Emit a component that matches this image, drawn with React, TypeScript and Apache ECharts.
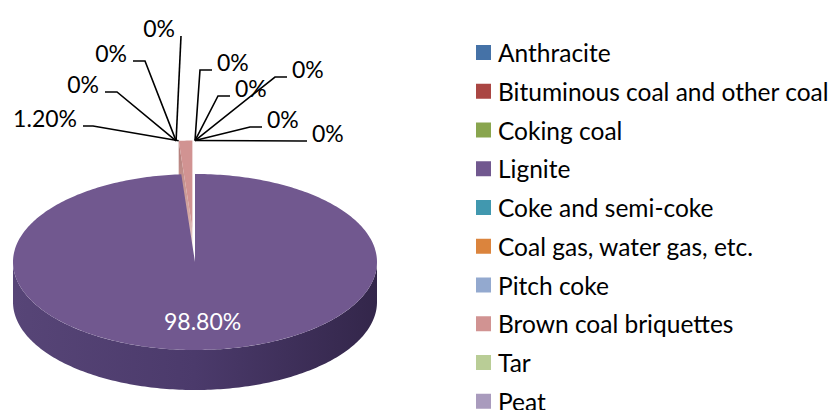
import React, { useEffect, useRef } from "react";
import * as echarts from "echarts";

// ---- data ----
const categories: string[] = [
  "Anthracite",
  "Bituminous coal and other coal",
  "Coking coal",
  "Lignite",
  "Coke and semi-coke",
  "Coal gas, water gas, etc.",
  "Pitch coke",
  "Brown coal briquettes",
  "Tar",
  "Peat",
];
const shares: number[] = [0, 0, 0, 98.8, 0, 0, 0, 1.2, 0, 0];

// ---- styles ----
const colors: string[] = [
  "#4572A7", "#AA4643", "#89A54E", "#71588F", "#4198AF",
  "#DB843D", "#93A9CF", "#D19392", "#B9CD96", "#A99BBD",
];
const explodeBy: number[] = [0.38, 0.38, 0.38, 0, 0.38, 0.38, 0.38, 0.38, 0.38, 0.38];

// ---- layout ----
const PIE = { cx: 195, cy: 262, rx: 182, ry: 88, depth: 40 };
const FONT = "Lato";
const FS = 23;
type LabelLayout =
  | { inside: true; frac: number }
  | { inside?: false; side: "L" | "R"; ex: number; ey: number; hx: number };
const labelLayout: LabelLayout[] = [
  { side: "R", ex: 275, ey: 77, hx: 287 },
  { side: "R", ex: 250, ey: 127, hx: 262 },
  { side: "R", ex: 300, ey: 141, hx: 307 },
  { inside: true, frac: 0.67 },
  { side: "L", ex: 117, ey: 92, hx: 105 },
  { side: "L", ex: 145, ey: 61, hx: 133 },
  { side: "L", ex: 181, ey: 36, hx: 181 },
  { side: "L", ex: 93, ey: 126, hx: 83 },
  { side: "R", ex: 200, ey: 70, hx: 212 },
  { side: "R", ex: 218, ey: 96, hx: 230 },
];

const fmtPct = (v: number) => (v === 0 ? "0%" : v.toFixed(2) + "%");

const total = shares.reduce((a, b) => a + b, 0);
const cumStart: number[] = [];
{
  let acc = 0;
  for (const v of shares) {
    cumStart.push((acc / total) * 360);
    acc += v;
  }
}

const rad = (d: number) => (d * Math.PI) / 180;
const pt = (ox: number, oy: number, ang: number, f = 1): number[] => [
  ox + f * PIE.rx * Math.sin(rad(ang)),
  oy - f * PIE.ry * Math.cos(rad(ang)),
];
const arcPts = (ox: number, oy: number, a0: number, a1: number, dy = 0) => {
  const pts: number[][] = [];
  const n = Math.max(2, Math.ceil(Math.abs(a1 - a0) / 1));
  for (let k = 0; k <= n; k++) {
    const a = a0 + ((a1 - a0) * k) / n;
    const p = pt(ox, oy, a);
    pts.push([p[0], p[1] + dy]);
  }
  return pts;
};

function renderItem(params: any) {
  const i = params.dataIndex;
  const v = shares[i];
  const a0 = cumStart[i];
  const a1 = a0 + (v / total) * 360;
  const mid = (a0 + a1) / 2;
  const e = explodeBy[i];
  const ox = PIE.cx + e * PIE.rx * Math.sin(rad(mid));
  const oy = PIE.cy - e * PIE.ry * Math.cos(rad(mid));
  const zBase = Math.round((1 - Math.cos(rad(mid))) * 10) * 4;
  const children: any[] = [];
  const color = colors[i];

  if (v > 0) {
    const s0 = Math.max(a0, 90);
    const s1 = Math.min(a1, 270);
    if (s1 > s0) {
      const top = arcPts(ox, oy, s0, s1);
      const bot = arcPts(ox, oy, s0, s1, PIE.depth).reverse();
      children.push({
        type: "polygon",
        z2: zBase + 1,
        shape: { points: top.concat(bot) },
        style: {
          fill: new echarts.graphic.LinearGradient(0, 0, 1, 0, [
            { offset: 0, color: "#574577" },
            { offset: 0.5, color: "#4B3A6B" },
            { offset: 1, color: "#33264A" },
          ]),
        },
      });
    }
    const faces = [
      { ang: a0, normal: a0 - 90 },
      { ang: a1, normal: a1 + 90 },
    ];
    for (const f of faces) {
      if (Math.cos(rad(f.normal - 180)) > 0.01) {
        const o = [ox, oy];
        const p = pt(ox, oy, f.ang);
        children.push({
          type: "polygon",
          z2: zBase + 2,
          shape: {
            points: [o, p, [p[0], p[1] + PIE.depth], [o[0], o[1] + PIE.depth]],
          },
          style: {
            fill: new echarts.graphic.LinearGradient(0, 0, 0, 1, [
              { offset: 0, color: "#B07A76" },
              { offset: 0.6, color: "#D6AAA6" },
              { offset: 1, color: "#F6ECEB" },
            ]),
          },
        });
      }
    }
    children.push({
      type: "polygon",
      z2: zBase + 3,
      shape: { points: [[ox, oy]].concat(arcPts(ox, oy, a0, a1)) },
      style: { fill: color },
    });
  }

  const lay = labelLayout[i];
  const text = fmtPct(v);
  if ((lay as any).inside) {
    const p = pt(ox, oy, mid, (lay as any).frac);
    children.push({
      type: "text",
      x: p[0] + 3,
      y: p[1],
      z2: 200,
      style: {
        text,
        fill: "#FFFFFF",
        fontFamily: FONT,
        fontSize: FS,
        align: "center",
        verticalAlign: "middle",
      },
    });
  } else {
    const L = lay as { side: "L" | "R"; ex: number; ey: number; hx: number };
    const anchor = pt(ox, oy, L.side === "L" ? a0 : a1);
    children.push({
      type: "polyline",
      z2: 199,
      shape: { points: [anchor, [L.ex, L.ey], [L.hx, L.ey]] },
      style: { stroke: "#000000", lineWidth: 1.6, fill: null },
    });
    children.push({
      type: "text",
      x: L.side === "L" ? L.hx - 6 : L.hx + 5,
      y: L.ey - 8,
      z2: 200,
      style: {
        text,
        fill: "#000000",
        fontFamily: FONT,
        fontSize: FS,
        align: L.side === "L" ? "right" : "left",
        verticalAlign: "middle",
      },
    });
  }
  return { type: "group", children };
}

export default function App() {
  const ref = useRef<HTMLDivElement>(null);
  useEffect(() => {
    if (!ref.current) return;
    const chart = echarts.init(ref.current, null, { renderer: "svg" });
    chart.setOption({
      animation: false,
      backgroundColor: "#FFFFFF",
      color: colors,
      legend: {
        orient: "vertical",
        left: 476,
        top: 40,
        height: 420,
        padding: 0,
        itemWidth: 15,
        itemHeight: 15,
        itemGap: 13.75,
        icon: "rect",
        selectedMode: false,
        data: categories,
        textStyle: {
          fontFamily: FONT,
          fontSize: 24.5,
          color: "#000000",
          lineHeight: 24,
          padding: [0, 0, 0, 2],
        },
      },
      series: [
        {
          type: "pie",
          name: "legend-source",
          radius: [0, 0],
          center: [-50, -50],
          silent: true,
          label: { show: false },
          labelLine: { show: false },
          data: categories.map((c, i) => ({
            name: c,
            value: shares[i],
            itemStyle: { color: colors[i] },
          })),
        },
        {
          type: "custom",
          name: "pie3d",
          coordinateSystem: "none",
          silent: true,
          renderItem,
          data: shares.map((v, i) => ({ name: categories[i], value: [i, v] })),
        },
      ],
    });
    return () => chart.dispose();
  }, []);
  return (
    <div
      ref={ref}
      style={{ position: "fixed", left: 0, top: 0, width: 833, height: 410 }}
    />
  );
}
